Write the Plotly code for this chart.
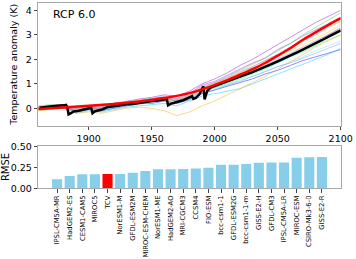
import plotly.graph_objects as go

# ---------------- data ----------------
dec_years = [1860, 1870, 1880, 1890, 1900, 1910, 1920, 1930, 1940, 1950, 1960, 1970,
             1980, 1990, 2000, 2010, 2020, 2030, 2040, 2050, 2060, 2070, 2080, 2090, 2100]

model_1 = [0.05, 0.12, 0.15, -0.02, 0.1, 0.05, 0.2, 0.3, 0.38, 0.45, 0.55, 0.5, 0.7, 1.0, 1.2, 1.45, 1.75, 2.0, 2.3, 2.6, 2.9, 3.2, 3.5, 3.75, 4.0]
model_2 = [-0.05, 0.05, 0.1, -0.1, 0.05, 0.0, 0.1, 0.25, 0.3, 0.4, 0.45, 0.4, 0.6, 0.95, 1.1, 1.35, 1.6, 1.85, 2.05, 2.4, 2.65, 2.95, 3.2, 3.45, 3.7]
model_3 = [0.0, 0.0, 0.05, -0.15, -0.05, -0.1, 0.0, 0.1, 0.2, 0.2, 0.3, 0.2, 0.35, 0.6, 0.75, 0.9, 1.05, 1.2, 1.4, 1.55, 1.75, 1.95, 2.1, 2.25, 2.4]
model_4 = [0.05, 0.0, 0.0, -0.2, -0.1, -0.15, -0.05, 0.05, 0.1, 0.15, 0.2, 0.1, 0.3, 0.5, 0.6, 0.7, 0.8, 1.0, 1.2, 1.4, 1.6, 1.8, 2.0, 2.2, 2.45]
model_5 = [0.1, 0.15, 0.1, 0.0, 0.1, 0.05, 0.15, 0.25, 0.35, 0.4, 0.45, 0.35, 0.55, 0.85, 1.05, 1.3, 1.55, 1.8, 2.05, 2.35, 2.65, 3.0, 3.3, 3.6, 3.9]
model_6 = [-0.1, 0.0, 0.05, -0.1, -0.05, -0.05, 0.05, 0.15, 0.2, 0.25, 0.3, 0.25, 0.4, 0.7, 0.85, 1.0, 1.2, 1.4, 1.6, 1.85, 2.1, 2.3, 2.55, 2.8, 3.0]
model_7 = [0.0, 0.1, 0.15, -0.05, 0.05, 0.0, 0.1, 0.2, 0.3, 0.35, 0.4, 0.3, 0.5, 0.8, 0.95, 1.2, 1.4, 1.6, 1.85, 2.1, 2.35, 2.6, 2.85, 3.1, 3.4]
model_8 = [-0.1, -0.05, 0.0, -0.2, -0.15, -0.2, -0.1, 0.0, 0.05, 0.0, -0.1, -0.3, -0.15, 0.1, 0.3, 0.55, 0.8, 1.05, 1.3, 1.6, 1.9, 2.2, 2.5, 2.75, 3.0]
model_9 = [0.05, 0.1, 0.1, -0.1, 0.0, -0.05, 0.1, 0.2, 0.25, 0.3, 0.4, 0.3, 0.5, 0.75, 0.9, 1.1, 1.3, 1.5, 1.7, 1.95, 2.2, 2.45, 2.7, 3.0, 3.25]
model_10 = [0.0, 0.05, 0.1, -0.05, 0.05, 0.0, 0.15, 0.25, 0.3, 0.4, 0.5, 0.4, 0.6, 0.9, 1.05, 1.25, 1.5, 1.7, 1.95, 2.2, 2.5, 2.75, 3.0, 3.3, 3.55]
model_11 = [-0.05, 0.0, 0.05, -0.15, -0.05, -0.1, 0.0, 0.1, 0.15, 0.25, 0.3, 0.2, 0.4, 0.65, 0.8, 0.95, 1.15, 1.3, 1.5, 1.7, 1.9, 2.1, 2.35, 2.55, 2.75]
model_12 = [0.05, 0.05, 0.1, -0.1, 0.0, -0.05, 0.05, 0.15, 0.25, 0.3, 0.35, 0.3, 0.45, 0.7, 0.85, 1.05, 1.25, 1.45, 1.65, 1.9, 2.15, 2.4, 2.65, 2.9, 3.15]
model_13 = [0.0, 0.05, 0.05, -0.1, 0.0, -0.05, 0.1, 0.2, 0.3, 0.35, 0.4, 0.3, 0.55, 0.85, 1.0, 1.2, 1.45, 1.65, 1.9, 2.15, 2.45, 2.75, 3.05, 3.3, 3.6]
model_14 = [0.0, 0.05, 0.05, -0.15, -0.05, -0.1, 0.0, 0.1, 0.2, 0.25, 0.3, 0.2, 0.4, 0.6, 0.75, 0.95, 1.1, 1.3, 1.5, 1.7, 1.85, 2.05, 2.25, 2.45, 2.65]
model_15 = [0.05, 0.1, 0.15, 0.0, 0.1, 0.05, 0.15, 0.25, 0.3, 0.35, 0.45, 0.35, 0.55, 0.85, 1.0, 1.25, 1.45, 1.7, 1.95, 2.2, 2.5, 2.8, 3.1, 3.4, 3.7]
model_16 = [-0.05, 0.05, 0.05, -0.1, 0.0, 0.0, 0.1, 0.2, 0.25, 0.35, 0.4, 0.3, 0.5, 0.8, 0.95, 1.15, 1.35, 1.55, 1.75, 2.0, 2.25, 2.5, 2.75, 3.0, 3.3]

model_series = [model_1, model_2, model_3, model_4, model_5, model_6, model_7, model_8,
                model_9, model_10, model_11, model_12, model_13, model_14, model_15, model_16]
model_colors = ['#9400D3', '#8A2BE2', '#0000FF', '#00BFFF', '#32CD32', '#00FF7F', '#FFD700', '#FFA500',
                '#FF6347', '#DA70D6', '#87CEFA', '#20B2AA', '#ADFF2F', '#6495ED', '#FF69B4', '#7B68EE']

mean_years = [1861, 1865, 1870, 1875, 1880, 1882, 1883, 1884, 1886, 1888, 1892, 1896, 1900, 1902,
              1903, 1905, 1910, 1915, 1920, 1925, 1930, 1935, 1940, 1945, 1950, 1955, 1960, 1962,
              1963, 1965, 1970, 1975, 1980, 1982, 1983, 1985, 1988, 1990, 1991, 1992, 1994, 1997,
              2000, 2005, 2010, 2015, 2020, 2025, 2030, 2035, 2040, 2045, 2050, 2055, 2060, 2065,
              2070, 2075, 2080, 2085, 2090, 2095, 2100]
mean_values = [0.02, 0.05, 0.08, 0.1, 0.12, 0.14, 0.05, -0.25, -0.2, -0.13, -0.1, -0.05, 0.0, 0.02,
               -0.2, -0.12, -0.06, 0.05, 0.08, 0.14, 0.17, 0.18, 0.23, 0.28, 0.3, 0.32, 0.36, 0.38,
               0.12, 0.18, 0.26, 0.33, 0.45, 0.5, 0.38, 0.42, 0.58, 0.78, 0.9, 0.36, 0.7, 0.86,
               0.92, 1.0, 1.1, 1.2, 1.3, 1.39, 1.48, 1.58, 1.68, 1.8, 1.92, 2.03, 2.15, 2.27,
               2.4, 2.52, 2.65, 2.78, 2.92, 3.05, 3.18]

tcv_years = [1860, 1880, 1900, 1920, 1940, 1960, 1980, 2000, 2010, 2020, 2030, 2040, 2050,
             2060, 2070, 2080, 2090, 2100]
tcv_values = [-0.03, 0.03, 0.1, 0.18, 0.28, 0.42, 0.62, 0.95, 1.15, 1.37, 1.6, 1.85, 2.15,
              2.45, 2.8, 3.1, 3.4, 3.68]

bar_models = ['IPSL-CM5A-MR', 'HadGEM2-ES', 'CESM1-CAM5', 'MIROC5', 'TCV', 'NorESM1-M',
              'GFDL-ESM2M', 'MIROC-ESM-CHEM', 'NorESM1-ME', 'HadGEM2-AO', 'MRI-CGCM3', 'CCSM4',
              'FIO-ESM', 'bcc-csm1-1', 'GFDL-ESM2G', 'bcc-csm1-1-m', 'GISS-E2-H', 'GFDL-CM3',
              'IPSL-CM5A-LR', 'MIROC-ESM', 'CSIRO-Mk3-6-0', 'GISS-E2-R']
rmse_values = [0.108, 0.148, 0.17, 0.17, 0.173, 0.172, 0.187, 0.208, 0.228, 0.228, 0.232, 0.238,
               0.246, 0.284, 0.284, 0.292, 0.306, 0.31, 0.31, 0.368, 0.372, 0.376]
highlight = 'TCV'

# ---------------- figure ----------------
W, H = 356, 259
def px_x(p):
    return p / W
def px_y(p):
    return 1 - p / H

fig = go.Figure()
for vals, col in zip(model_series, model_colors):
    fig.add_trace(go.Scatter(x=dec_years, y=vals, mode='lines',
                             line=dict(color=col, width=0.9), opacity=0.5,
                             xaxis='x', yaxis='y', showlegend=False, hoverinfo='skip'))
fig.add_trace(go.Scatter(x=mean_years, y=mean_values, mode='lines',
                         line=dict(color='black', width=2.5), xaxis='x', yaxis='y', showlegend=False))
fig.add_trace(go.Scatter(x=tcv_years, y=tcv_values, mode='lines', line_shape='spline',
                         line=dict(color='#ff0000', width=2.5), xaxis='x', yaxis='y', showlegend=False))

bar_colors = ['#ff0000' if m == highlight else '#87CEEB' for m in bar_models]
fig.add_trace(go.Bar(x=bar_models, y=rmse_values, marker=dict(color=bar_colors, line=dict(width=0)),
                     xaxis='x2', yaxis='y2', showlegend=False))

spine = '#a8a8a8'
axis_base = dict(showline=True, linecolor=spine, linewidth=1, mirror=True, ticks='outside',
                 ticklen=3.5, tickcolor='#444', tickwidth=0.8, showgrid=False, zeroline=False,
                 automargin=False, ticklabeloverflow='allow')
tick_font = dict(family='DejaVu Sans', size=9.5, color='black')

fig.update_layout(
    width=W, height=H, margin=dict(l=0, r=0, t=0, b=0),
    paper_bgcolor='white', plot_bgcolor='white', bargap=0.2,
    font=dict(family='DejaVu Sans', color='black'),
    xaxis=dict(domain=[px_x(38.3), px_x(340.7)], anchor='y', range=[1860, 2100],
               tickvals=[1900, 1950, 2000, 2050, 2100], tickfont=tick_font, **axis_base),
    yaxis=dict(domain=[px_y(125.7), px_y(3)], anchor='x', range=[-0.71, 4.3],
               tickvals=[0, 1, 2, 3, 4], tickfont=tick_font,
               title=dict(text='Temperature anomaly (K)', font=dict(size=9.5), standoff=6),
               **axis_base),
    xaxis2=dict(domain=[px_x(38.3), px_x(340.7)], anchor='y2', range=[-1.49, 22.49],
                tickangle=-90, tickfont=dict(family='DejaVu Sans', size=6.8, color='black'),
                **axis_base),
    yaxis2=dict(domain=[px_y(188.3), px_y(145.7)], anchor='x2', range=[0, 0.512],
                tickvals=[0, 0.25, 0.5], ticktext=['0.00', '0.25', '0.50'], tickfont=tick_font,
                title=dict(text='RMSE', font=dict(size=10), standoff=6),
                **axis_base),
    annotations=[dict(text='RCP 6.0', x=px_x(51), y=px_y(14), xref='paper', yref='paper',
                      xanchor='left', yanchor='middle', showarrow=False,
                      font=dict(family='DejaVu Sans', size=11, color='black'))],
)

fig.write_html('out.html', config={'displayModeBar': False},
               post_script="document.body.style.margin='0';document.body.style.overflow='hidden';")
